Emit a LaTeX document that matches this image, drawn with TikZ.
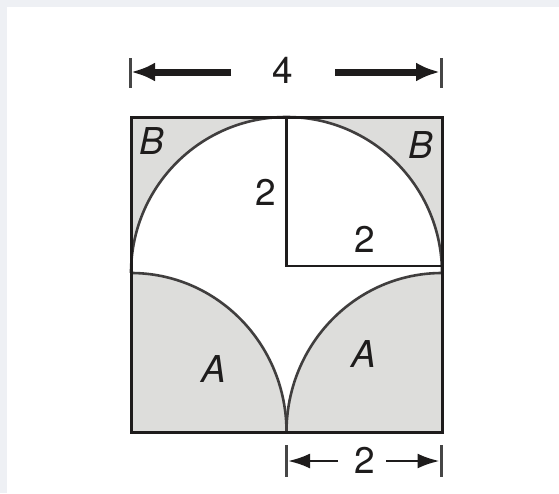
\documentclass[tikz,border=0pt]{standalone}
\usepackage{fontspec}
\setmainfont{TeX Gyre Heros}
\usetikzlibrary{arrows.meta}
\definecolor{pagegray}{RGB}{238,240,244}
\definecolor{areagray}{RGB}{221,221,219}
\definecolor{ink}{RGB}{30,28,28}
\definecolor{tickgray}{RGB}{70,70,70}
\tikzset{
  outline/.style={draw=ink, line width=3pt},
  curve/.style={draw=ink!85, line width=2.6pt},
  lbl/.style={inner sep=0pt, text=ink, font=\fontsize{37}{40}\selectfont},
  ilbl/.style={lbl, font=\fontsize{37}{40}\selectfont\itshape},
  tickmark/.style={draw=tickgray, line width=3pt},
  bigdim/.style={draw=ink, line width=7pt, -{Latex[length=24pt,width=19pt]}},
  smalldim/.style={draw=ink, line width=2.6pt, -{Latex[length=22pt,width=15pt]}},
}
\begin{document}
\begin{tikzpicture}[x=1pt,y=-1pt]
\useasboundingbox (0,0) rectangle (559,493);
\fill[pagegray] (0,0) rectangle (559,493);
\fill[white] (7,7) rectangle (559,493);
% key points
\coordinate (tl) at (131,117);
\coordinate (tr) at (442,117);
\coordinate (bl) at (131,432);
\coordinate (br) at (442,432);
\coordinate (tm) at (286.5,117);
\coordinate (bm) at (286.5,432);
\coordinate (ml) at (131,273);
\coordinate (mr) at (442,273);
\coordinate (cc) at (286.5,266);
\coordinate (rc) at (442,266);
% shading
\fill[areagray] (tl) rectangle (br);
\fill[white] (ml) arc[start angle=180, end angle=360, x radius=155.5, y radius=156]
  arc[start angle=270, end angle=180, x radius=155.5, y radius=159]
  arc[start angle=0, end angle=-90, x radius=155.5, y radius=159] -- cycle;
% arcs
\draw[curve] (ml) arc[start angle=180, end angle=360, x radius=155.5, y radius=156];
\draw[curve] (mr) arc[start angle=270, end angle=180, x radius=155.5, y radius=159];
\draw[curve] (bm) arc[start angle=0, end angle=-90, x radius=155.5, y radius=159];
% radii
\draw[outline, line width=2.6pt] (tm) -- (cc) -- (rc);
\draw[outline] (tl) rectangle (br);
% labels
\node[ilbl] (bL) at (152,141) {B};
\node[ilbl] (bR) at (421,145) {B};
\node[lbl] (vr) at (266,192) {2};
\node[lbl] (hr) at (365,239) {2};
\node[ilbl] (aL) at (214,369) {A};
\node[ilbl] (aR) at (364,354) {A};
% top dimension
\coordinate (t1a) at (130,58); \coordinate (t1b) at (130,88);
\coordinate (t2a) at (441,58); \coordinate (t2b) at (441,88);
\draw[tickmark] (t1a) -- (t1b);
\draw[tickmark] (t2a) -- (t2b);
\node[lbl] (four) at (283,70) {4};
\coordinate (la) at (231,72); \coordinate (lb) at (131,72);
\coordinate (ra) at (335,72); \coordinate (rb) at (440,72);
\draw[bigdim] (la) -- (lb);
\draw[bigdim] (ra) -- (rb);
% bottom dimension
\coordinate (b1a) at (286.5,445); \coordinate (b1b) at (286.5,477);
\coordinate (b2a) at (441,445); \coordinate (b2b) at (441,477);
\draw[tickmark] (b1a) -- (b1b);
\draw[tickmark] (b2a) -- (b2b);
\node[lbl] (two) at (365,460) {2};
\coordinate (sla) at (338,461); \coordinate (slb) at (288,461);
\coordinate (sra) at (386,461); \coordinate (srb) at (439.5,461);
\draw[smalldim] (sla) -- (slb);
\draw[smalldim] (sra) -- (srb);
\end{tikzpicture}
\end{document}
